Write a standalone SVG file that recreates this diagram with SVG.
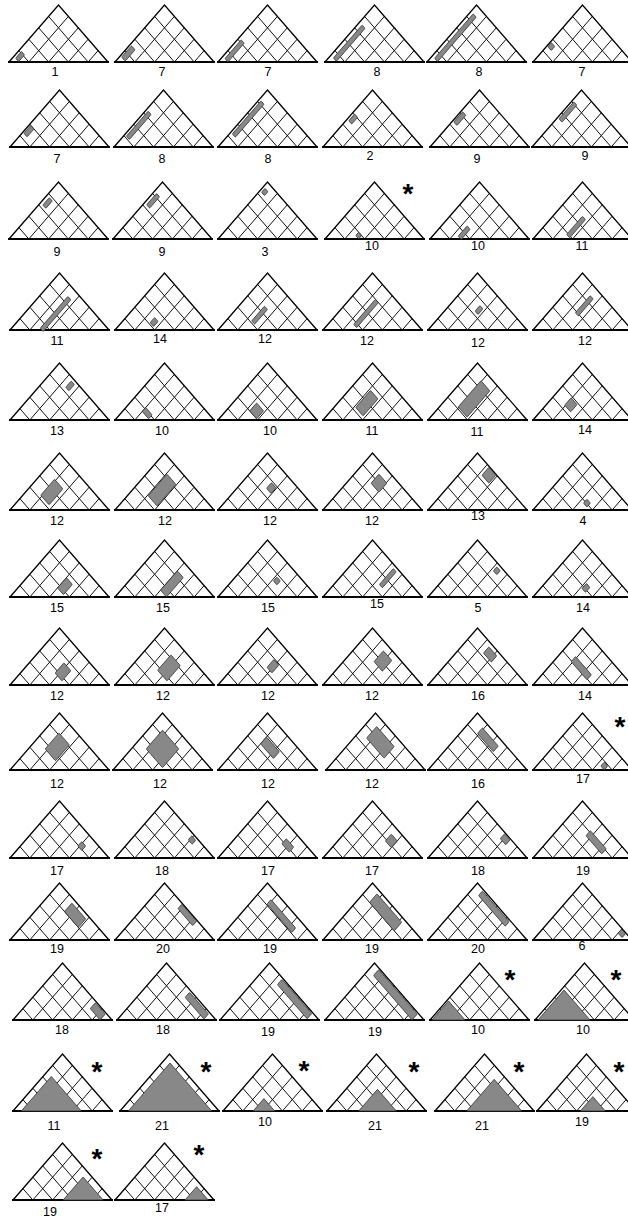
<svg xmlns="http://www.w3.org/2000/svg" xmlns:xlink="http://www.w3.org/1999/xlink" width="628" height="1219" viewBox="0 0 628 1219">
<style>
.gl{fill:none;stroke:#111;stroke-width:1}
.ol{fill:none;stroke:#000;stroke-width:1.3;stroke-linejoin:miter}
.bl{stroke:#000;stroke-width:2}
.g{fill:#888;stroke:#333;stroke-width:0.8;vector-effect:non-scaling-stroke}
text{font-family:"Liberation Sans",Arial,sans-serif;font-size:12.5px;text-anchor:middle;fill:#000}
.st{font-size:28px;font-weight:bold}
</style>
<defs>
<g id="tri">
<path class="gl" d="M9.9,-11.4L19.8,0M19.8,-22.8L39.6,0M29.7,-34.2L59.4,0M39.6,-45.6L79.2,0M19.8,0L59.4,-45.6M39.6,0L69.3,-34.2M59.4,0L79.2,-22.8M79.2,0L89.1,-11.4"/>
<path class="ol" d="M0,0L49.5,-57L99,0"/>
<path class="bl" d="M-1,0H100"/>
</g>
</defs>
<rect width="628" height="1219" fill="#fff"/>
<!-- row 1 -->
<g id="t1"><use href="#tri" x="9" y="62"/><rect class="g" transform="matrix(9.9,11.4,9.9,-11.4,9,62)" x=".17" y=".5" width=".3" height=".6" rx=".06"/><text x="55" y="76">1</text></g>
<g id="t2"><use href="#tri" x="115" y="62"/><rect class="g" transform="matrix(9.9,11.4,9.9,-11.4,115,62)" x=".12" y=".55" width=".36" height="1" rx=".06"/><text x="162" y="76">7</text></g>
<g id="t3"><use href="#tri" x="218" y="62"/><rect class="g" transform="matrix(9.9,11.4,9.9,-11.4,218,62)" x=".2" y=".5" width=".3" height="1.65" rx=".06"/><text x="268" y="76">7</text></g>
<g id="t4"><use href="#tri" x="325" y="62"/><rect class="g" transform="matrix(9.9,11.4,9.9,-11.4,325,62)" x=".25" y=".6" width=".3" height="2.9" rx=".06"/><text x="377" y="76">8</text></g>
<g id="t5"><use href="#tri" x="427" y="62"/><rect class="g" transform="matrix(9.9,11.4,9.9,-11.4,427,62)" x=".22" y=".55" width=".3" height="3.9" rx=".06"/><text x="479" y="76">8</text></g>
<g id="t6"><use href="#tri" x="533" y="62"/><rect class="g" transform="matrix(9.9,11.4,9.9,-11.4,533,62)" x=".08" y="1.42" width=".34" height=".36" rx=".06"/><text x="582" y="76">7</text></g>
<!-- row 2 -->
<g id="t7"><use href="#tri" x="10" y="147"/><rect class="g" transform="matrix(9.9,11.4,9.9,-11.4,10,147)" x=".1" y="1.3" width=".32" height=".7" rx=".06"/><text x="57" y="163">7</text></g>
<g id="t8"><use href="#tri" x="114" y="147"/><rect class="g" transform="matrix(9.9,11.4,9.9,-11.4,114,147)" x=".15" y="1.1" width=".3" height="2.2" rx=".06"/><text x="162" y="163">8</text></g>
<g id="t9"><use href="#tri" x="218" y="147"/><rect class="g" transform="matrix(9.9,11.4,9.9,-11.4,218,147)" x=".15" y="1.3" width=".3" height="2.9" rx=".06"/><text x="268" y="163">8</text></g>
<g id="t10"><use href="#tri" x="323" y="147"/><rect class="g" transform="matrix(9.9,11.4,9.9,-11.4,323,147)" x=".15" y="2.45" width=".3" height=".6" rx=".06"/><text x="370" y="160">2</text></g>
<g id="t11"><use href="#tri" x="430" y="147"/><rect class="g" transform="matrix(9.9,11.4,9.9,-11.4,430,147)" x=".1" y="2.3" width=".32" height=".9" rx=".06"/><text x="477" y="163">9</text></g>
<g id="t12"><use href="#tri" x="532" y="147"/><rect class="g" transform="matrix(9.9,11.4,9.9,-11.4,532,147)" x=".13" y="2.6" width=".3" height="1.5" rx=".06"/><text x="585" y="160">9</text></g>
<!-- row 3 -->
<g id="t13"><use href="#tri" x="9" y="239"/><rect class="g" transform="matrix(9.9,11.4,9.9,-11.4,9,239)" x=".22" y="3.2" width=".3" height=".65" rx=".06"/><text x="57" y="256">9</text></g>
<g id="t14"><use href="#tri" x="113" y="239"/><rect class="g" transform="matrix(9.9,11.4,9.9,-11.4,113,239)" x=".2" y="3.2" width=".3" height="1" rx=".06"/><text x="162" y="256">9</text></g>
<g id="t15"><use href="#tri" x="218" y="239"/><rect class="g" transform="matrix(9.9,11.4,9.9,-11.4,218,239)" x=".15" y="4.25" width=".3" height=".35" rx=".06"/><text x="265" y="256">3</text></g>
<g id="t16"><use href="#tri" x="325" y="239"/><rect class="g" transform="matrix(9.9,11.4,9.9,-11.4,325,239)" x="1.4" y="1.7" width=".3" height=".3" rx=".06"/><text x="372" y="250">10</text><text class="st" x="408" y="203">*</text></g>
<g id="t17"><use href="#tri" x="430" y="239"/><rect class="g" transform="matrix(9.9,11.4,9.9,-11.4,430,239)" x="1.3" y="1.55" width=".3" height=".9" rx=".06"/><text x="478" y="250">10</text></g>
<g id="t18"><use href="#tri" x="533" y="239"/><rect class="g" transform="matrix(9.9,11.4,9.9,-11.4,533,239)" x="1.5" y="1.9" width=".3" height="1.6" rx=".06"/><text x="582" y="250">11</text></g>
<!-- row 4 -->
<g id="t19"><use href="#tri" x="10" y="330"/><rect class="g" transform="matrix(9.9,11.4,9.9,-11.4,10,330)" x="1.45" y="1.6" width=".3" height="2.8" rx=".06"/><text x="57" y="345">11</text></g>
<g id="t20"><use href="#tri" x="115" y="330"/><rect class="g" transform="matrix(9.9,11.4,9.9,-11.4,115,330)" x="1.45" y="2.1" width=".35" height=".45" rx=".06"/><text x="160" y="343">14</text></g>
<g id="t21"><use href="#tri" x="218" y="330"/><rect class="g" transform="matrix(9.9,11.4,9.9,-11.4,218,330)" x="1.3" y="2.1" width=".3" height="1.3" rx=".06"/><text x="265" y="343">12</text></g>
<g id="t22"><use href="#tri" x="323" y="330"/><rect class="g" transform="matrix(9.9,11.4,9.9,-11.4,323,330)" x="1.3" y="1.8" width=".3" height="2.2" rx=".06"/><text x="367" y="345">12</text></g>
<g id="t23"><use href="#tri" x="428" y="330"/><rect class="g" transform="matrix(9.9,11.4,9.9,-11.4,428,330)" x="1.55" y="3.2" width=".3" height=".5" rx=".06"/><text x="478" y="347">12</text></g>
<g id="t24"><use href="#tri" x="533" y="330"/><rect class="g" transform="matrix(9.9,11.4,9.9,-11.4,533,330)" x="1.38" y="2.9" width=".3" height="1.5" rx=".06"/><text x="585" y="345">12</text></g>
<!-- row 5 -->
<g id="t25"><use href="#tri" x="10" y="420"/><rect class="g" transform="matrix(9.9,11.4,9.9,-11.4,10,420)" x="1.38" y="4.25" width=".32" height=".55" rx=".06"/><text x="57" y="435">13</text></g>
<g id="t26"><use href="#tri" x="115" y="420"/><rect class="g" transform="matrix(9.9,11.4,9.9,-11.4,115,420)" x="1.0" y="1.75" width=".65" height=".35" rx=".06"/><text x="162" y="435">10</text></g>
<g id="t27"><use href="#tri" x="218" y="420"/><rect class="g" transform="matrix(9.9,11.4,9.9,-11.4,218,420)" x="1.2" y="2" width=".7" height=".7" rx=".06"/><text x="270" y="435">10</text></g>
<g id="t28"><use href="#tri" x="323" y="420"/><rect class="g" transform="matrix(9.9,11.4,9.9,-11.4,323,420)" x="1.1" y="2.2" width=".75" height="1.5" rx=".06"/><text x="372" y="435">11</text></g>
<g id="t29"><use href="#tri" x="428" y="420"/><rect class="g" transform="matrix(9.9,11.4,9.9,-11.4,428,420)" x=".95" y="2.1" width=".9" height="2.3" rx=".06"/><text x="477" y="436">11</text></g>
<g id="t30"><use href="#tri" x="533" y="420"/><rect class="g" transform="matrix(9.9,11.4,9.9,-11.4,533,420)" x=".95" y="2.25" width=".6" height=".65" rx=".06"/><text x="585" y="434">14</text></g>
<!-- row 6 -->
<g id="t31"><use href="#tri" x="10" y="510"/><rect class="g" transform="matrix(9.9,11.4,9.9,-11.4,10,510)" x=".9" y="2.2" width=".85" height="1.4" rx=".06"/><text x="57" y="525">12</text></g>
<g id="t32"><use href="#tri" x="115" y="510"/><rect class="g" transform="matrix(9.9,11.4,9.9,-11.4,115,510)" x="1.05" y="2.3" width=".9" height="1.9" rx=".06"/><text x="165" y="525">12</text></g>
<g id="t33"><use href="#tri" x="218" y="510"/><rect class="g" transform="matrix(9.9,11.4,9.9,-11.4,218,510)" x="1.5" y="3.4" width=".45" height=".5" rx=".06"/><text x="270" y="525">12</text></g>
<g id="t34"><use href="#tri" x="323" y="510"/><rect class="g" transform="matrix(9.9,11.4,9.9,-11.4,323,510)" x="1.25" y="3.6" width=".8" height=".8" rx=".06"/><text x="372" y="525">12</text></g>
<g id="t35"><use href="#tri" x="428" y="510"/><rect class="g" transform="matrix(9.9,11.4,9.9,-11.4,428,510)" x="1.2" y="4.25" width=".7" height=".7" rx=".06"/><text x="478" y="520">13</text></g>
<g id="t36"><use href="#tri" x="533" y="510"/><rect class="g" transform="matrix(9.9,11.4,9.9,-11.4,533,510)" x="2.25" y="2.85" width=".35" height=".35" rx=".06"/><text x="583" y="525">4</text></g>
<!-- row 7 -->
<g id="t37"><use href="#tri" x="10" y="597"/><rect class="g" transform="matrix(9.9,11.4,9.9,-11.4,10,597)" x="2" y="2.8" width=".6" height=".9" rx=".06"/><text x="57" y="612">15</text></g>
<g id="t38"><use href="#tri" x="115" y="597"/><rect class="g" transform="matrix(9.9,11.4,9.9,-11.4,115,597)" x="2" y="2.6" width=".6" height="1.7" rx=".06"/><text x="163" y="612">15</text></g>
<g id="t39"><use href="#tri" x="218" y="597"/><rect class="g" transform="matrix(9.9,11.4,9.9,-11.4,218,597)" x="2.1" y="3.5" width=".35" height=".35" rx=".06"/><text x="268" y="612">15</text></g>
<g id="t40"><use href="#tri" x="323" y="597"/><rect class="g" transform="matrix(9.9,11.4,9.9,-11.4,323,597)" x="2.3" y="3.4" width=".3" height="1.4" rx=".06"/><text x="377" y="608">15</text></g>
<g id="t41"><use href="#tri" x="428" y="597"/><rect class="g" transform="matrix(9.9,11.4,9.9,-11.4,428,597)" x="2.15" y="4.45" width=".35" height=".35" rx=".06"/><text x="478" y="612">5</text></g>
<g id="t42"><use href="#tri" x="533" y="597"/><rect class="g" transform="matrix(9.9,11.4,9.9,-11.4,533,597)" x="2.1" y="2.85" width=".35" height=".45" rx=".06"/><text x="583" y="612">14</text></g>
<!-- row 8 -->
<g id="t43"><use href="#tri" x="10" y="685"/><rect class="g" transform="matrix(9.9,11.4,9.9,-11.4,10,685)" x="1.75" y="2.8" width=".7" height=".9" rx=".06"/><text x="57" y="700">12</text></g>
<g id="t44"><use href="#tri" x="115" y="685"/><rect class="g" transform="matrix(9.9,11.4,9.9,-11.4,115,685)" x="1.5" y="2.8" width=".95" height="1.35" rx=".06"/><text x="163" y="700">12</text></g>
<g id="t45"><use href="#tri" x="218" y="685"/><rect class="g" transform="matrix(9.9,11.4,9.9,-11.4,218,685)" x="1.7" y="3.25" width=".5" height=".7" rx=".06"/><text x="268" y="700">12</text></g>
<g id="t46"><use href="#tri" x="323" y="685"/><rect class="g" transform="matrix(9.9,11.4,9.9,-11.4,323,685)" x="1.55" y="3.6" width=".85" height=".95" rx=".06"/><text x="372" y="700">12</text></g>
<g id="t47"><use href="#tri" x="428" y="685"/><rect class="g" transform="matrix(9.9,11.4,9.9,-11.4,428,685)" x="1.4" y="4.2" width=".8" height=".55" rx=".06"/><text x="478" y="700">16</text></g>
<g id="t48"><use href="#tri" x="533" y="685"/><rect class="g" transform="matrix(9.9,11.4,9.9,-11.4,533,685)" x=".9" y="2.95" width="1.6" height=".45" rx=".06"/><text x="585" y="700">14</text></g>
<!-- row 9 -->
<g id="t49"><use href="#tri" x="10" y="770"/><rect class="g" transform="matrix(9.9,11.4,9.9,-11.4,10,770)" x=".85" y="2.7" width="1.05" height="1.4" rx=".06"/><text x="57" y="788">12</text></g>
<g id="t50"><use href="#tri" x="113" y="770"/><rect class="g" transform="matrix(9.9,11.4,9.9,-11.4,113,770)" x=".75" y="2.6" width="1.65" height="1.65" rx=".06"/><text x="160" y="788">12</text></g>
<g id="t51"><use href="#tri" x="218" y="770"/><rect class="g" transform="matrix(9.9,11.4,9.9,-11.4,218,770)" x="1" y="3.3" width="1.3" height=".6" rx=".06"/><text x="268" y="788">12</text></g>
<g id="t52"><use href="#tri" x="326" y="770"/><rect class="g" transform="matrix(9.9,11.4,9.9,-11.4,326,770)" x=".65" y="3.45" width="1.77" height="1.02" rx=".06"/><text x="372" y="788">12</text></g>
<g id="t53"><use href="#tri" x="428" y="770"/><rect class="g" transform="matrix(9.9,11.4,9.9,-11.4,428,770)" x=".9" y="4.1" width="1.6" height=".5" rx=".06"/><text x="478" y="788">16</text></g>
<g id="t54"><use href="#tri" x="533" y="770"/><rect class="g" transform="matrix(9.9,11.4,9.9,-11.4,533,770)" x="3.25" y="3.6" width=".35" height=".35" rx=".06"/><text x="583" y="783">17</text><text class="st" x="620" y="736">*</text></g>
<!-- row 10 -->
<g id="t55"><use href="#tri" x="10" y="858"/><rect class="g" transform="matrix(9.9,11.4,9.9,-11.4,10,858)" x="2.9" y="3.95" width=".4" height=".4" rx=".06"/><text x="57" y="875">17</text></g>
<g id="t56"><use href="#tri" x="115" y="858"/><rect class="g" transform="matrix(9.9,11.4,9.9,-11.4,115,858)" x="2.9" y="4.5" width=".4" height=".35" rx=".06"/><text x="162" y="875">18</text></g>
<g id="t57"><use href="#tri" x="218" y="858"/><rect class="g" transform="matrix(9.9,11.4,9.9,-11.4,218,858)" x="2.6" y="3.85" width=".75" height=".45" rx=".06"/><text x="268" y="875">17</text></g>
<g id="t58"><use href="#tri" x="323" y="858"/><rect class="g" transform="matrix(9.9,11.4,9.9,-11.4,323,858)" x="2.4" y="3.9" width=".6" height=".6" rx=".06"/><text x="372" y="875">17</text></g>
<g id="t59"><use href="#tri" x="428" y="858"/><rect class="g" transform="matrix(9.9,11.4,9.9,-11.4,428,858)" x="2.8" y="4.5" width=".55" height=".45" rx=".06"/><text x="478" y="875">18</text></g>
<g id="t60"><use href="#tri" x="533" y="858"/><rect class="g" transform="matrix(9.9,11.4,9.9,-11.4,533,858)" x="1.7" y="3.65" width="1.6" height=".45" rx=".06"/><text x="583" y="875">19</text></g>
<!-- row 11 -->
<g id="t61"><use href="#tri" x="10" y="940"/><rect class="g" transform="matrix(9.9,11.4,9.9,-11.4,10,940)" x="1.5" y="4" width="1.4" height=".75" rx=".06"/><text x="57" y="953">19</text></g>
<g id="t62"><use href="#tri" x="115" y="940"/><rect class="g" transform="matrix(9.9,11.4,9.9,-11.4,115,940)" x="1.8" y="4.55" width="1.5" height=".4" rx=".06"/><text x="163" y="953">20</text></g>
<g id="t63"><use href="#tri" x="218" y="940"/><rect class="g" transform="matrix(9.9,11.4,9.9,-11.4,218,940)" x=".9" y="4.05" width="2.5" height=".4" rx=".06"/><text x="270" y="953">19</text></g>
<g id="t64"><use href="#tri" x="323" y="940"/><rect class="g" transform="matrix(9.9,11.4,9.9,-11.4,323,940)" x=".7" y="4" width="2.5" height=".75" rx=".06"/><text x="372" y="953">19</text></g>
<g id="t65"><use href="#tri" x="428" y="940"/><rect class="g" transform="matrix(9.9,11.4,9.9,-11.4,428,940)" x=".6" y="4.5" width="2.7" height=".4" rx=".06"/><text x="478" y="953">20</text></g>
<g id="t66"><use href="#tri" x="533" y="940"/><rect class="g" transform="matrix(9.9,11.4,9.9,-11.4,533,940)" x="4" y="4.6" width=".4" height=".35" rx=".06"/><text x="582" y="950">6</text></g>
<!-- row 12 -->
<g id="t67"><use href="#tri" x="13" y="1020"/><rect class="g" transform="matrix(9.9,11.4,9.9,-11.4,13,1020)" x="3.4" y="4.4" width="1" height=".52" rx=".06"/><text x="62" y="1034">18</text></g>
<g id="t68"><use href="#tri" x="117" y="1020"/><rect class="g" transform="matrix(9.9,11.4,9.9,-11.4,117,1020)" x="2.45" y="4.43" width="1.9" height=".45" rx=".06"/><text x="163" y="1034">18</text></g>
<g id="t69"><use href="#tri" x="220" y="1020"/><rect class="g" transform="matrix(9.9,11.4,9.9,-11.4,220,1020)" x="1.35" y="4.45" width="3" height=".47" rx=".06"/><text x="268" y="1036">19</text></g>
<g id="t70"><use href="#tri" x="325" y="1020"/><rect class="g" transform="matrix(9.9,11.4,9.9,-11.4,325,1020)" x=".5" y="4.4" width="3.9" height=".52" rx=".06"/><text x="375" y="1036">19</text></g>
<g id="t71"><use href="#tri" x="430" y="1020"/><polygon class="g" transform="matrix(9.9,11.4,9.9,-11.4,430,1020)" points=".1,.1 .1,1.77 1.77,1.77"/><text x="478" y="1034">10</text><text class="st" x="510" y="989">*</text></g>
<g id="t72"><use href="#tri" x="535" y="1020"/><polygon class="g" transform="matrix(9.9,11.4,9.9,-11.4,535,1020)" points=".15,.15 .15,2.78 2.78,2.78"/><text x="583" y="1034">10</text><text class="st" x="616" y="989">*</text></g>
<!-- row 13 -->
<g id="t73"><use href="#tri" x="13" y="1111"/><polygon class="g" transform="matrix(9.9,11.4,9.9,-11.4,13,1111)" points=".42,.42 .42,3.45 3.45,3.45"/><text x="54" y="1130">11</text><text class="st" x="97" y="1081">*</text></g>
<g id="t74"><use href="#tri" x="120" y="1111"/><polygon class="g" transform="matrix(9.9,11.4,9.9,-11.4,120,1111)" points=".42,.42 .42,4.63 4.63,4.63"/><text x="162" y="1130">21</text><text class="st" x="206" y="1081">*</text></g>
<g id="t75"><use href="#tri" x="223" y="1111"/><polygon class="g" transform="matrix(9.9,11.4,9.9,-11.4,223,1111)" points="1.52,1.52 1.52,2.61 2.61,2.61"/><text x="265" y="1126">10</text><text class="st" x="304" y="1080">*</text></g>
<g id="t76"><use href="#tri" x="327" y="1111"/><polygon class="g" transform="matrix(9.9,11.4,9.9,-11.4,327,1111)" points="1.6,1.6 1.6,3.5 3.5,3.5"/><text x="375" y="1130">21</text><text class="st" x="414" y="1081">*</text></g>
<g id="t77"><use href="#tri" x="435" y="1111"/><polygon class="g" transform="matrix(9.9,11.4,9.9,-11.4,435,1111)" points="1.6,1.6 1.6,4.38 4.38,4.38"/><text x="482" y="1130">21</text><text class="st" x="519" y="1081">*</text></g>
<g id="t78"><use href="#tri" x="537" y="1111"/><polygon class="g" transform="matrix(9.9,11.4,9.9,-11.4,537,1111)" points="2.19,2.19 2.19,3.45 3.45,3.45"/><text x="582" y="1126">19</text><text class="st" x="619" y="1081">*</text></g>
<!-- row 14 -->
<g id="t79"><use href="#tri" x="13" y="1200"/><polygon class="g" transform="matrix(9.9,11.4,9.9,-11.4,13,1200)" points="2.53,2.53 2.53,4.55 4.55,4.55"/><text x="50" y="1216">19</text><text class="st" x="97" y="1168">*</text></g>
<g id="t80"><use href="#tri" x="115" y="1200"/><polygon class="g" transform="matrix(9.9,11.4,9.9,-11.4,115,1200)" points="3.54,3.54 3.54,4.71 4.71,4.71"/><text x="162" y="1212">17</text><text class="st" x="199" y="1164">*</text></g>
<g id="connectors"></g>
</svg>
